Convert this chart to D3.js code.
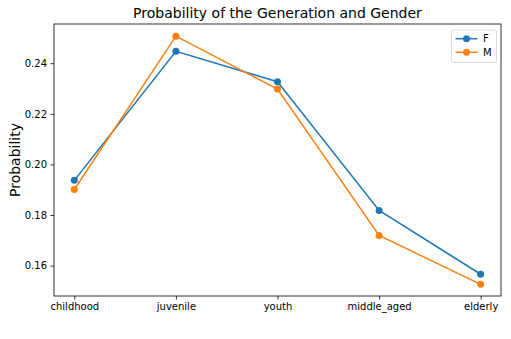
<!DOCTYPE html>
<html>
<head>
<meta charset="utf-8">
<script src="https://cdn.jsdelivr.net/npm/d3@7"></script>
<style>
  html, body { margin: 0; padding: 0; background: #fff; }
  svg { display: block; font-family: "DejaVu Sans", sans-serif; }
</style>
</head>
<body>
<svg id="chart" width="511" height="339"></svg>
<script>
// Generation categories along the x axis
const generations = ["childhood", "juvenile", "youth", "middle_aged", "elderly"];
// Probability per generation for each gender
const femaleProb = [0.1937, 0.2447, 0.2327, 0.1818, 0.1566];
const maleProb   = [0.1901, 0.2507, 0.2298, 0.1719, 0.1526];
const seriesNames = ["F", "M"];
const yTicks = [0.16, 0.18, 0.20, 0.22, 0.24];

const colors = { F: "#1f77b4", M: "#ff7f0e" };
const series = [
  { name: seriesNames[0], values: femaleProb },
  { name: seriesNames[1], values: maleProb }
];

const svg = d3.select("#chart");
const plotLeft = 54, plotRight = 501, plotTop = 24, plotBottom = 296;

// point scale with 5% margins on each side
const x = d3.scalePoint().domain(generations).range([plotLeft, plotRight]).padding(0.2);
const y = d3.scaleLinear().domain([0.1480, 0.2555]).range([plotBottom, plotTop]);

// Axes
const gx = svg.append("g").attr("transform", `translate(0,${plotBottom})`)
  .call(d3.axisBottom(x).tickSize(3.5).tickPadding(3.5));
gx.select(".domain").remove();
gx.selectAll("text").attr("font-size", 10).attr("fill", "#000").attr("font-family", "DejaVu Sans");
gx.selectAll("line").attr("stroke", "#000").attr("stroke-width", 0.8);

const gy = svg.append("g").attr("transform", `translate(${plotLeft},0)`)
  .call(d3.axisLeft(y).tickValues(yTicks).tickFormat(d3.format(".2f")).tickSize(3.5).tickPadding(3.5));
gy.select(".domain").remove();
gy.selectAll("text").attr("font-size", 10).attr("fill", "#000").attr("font-family", "DejaVu Sans");
gy.selectAll("line").attr("stroke", "#000").attr("stroke-width", 0.8);

// Lines and markers
const line = d3.line().x((d, i) => x(generations[i])).y(d => y(d));
series.forEach(s => {
  svg.append("path").datum(s.values)
    .attr("d", line).attr("fill", "none")
    .attr("stroke", colors[s.name]).attr("stroke-width", 1.5);
  svg.append("g").selectAll("circle").data(s.values).join("circle")
    .attr("cx", (d, i) => x(generations[i]))
    .attr("cy", d => y(d))
    .attr("r", 3.5)
    .attr("fill", colors[s.name]);
});

// Frame
svg.append("rect").attr("x", plotLeft).attr("y", plotTop)
  .attr("width", plotRight - plotLeft).attr("height", plotBottom - plotTop)
  .attr("fill", "none").attr("stroke", "#000").attr("stroke-width", 0.8);

// Title and y label
svg.append("text").attr("x", (plotLeft + plotRight) / 2).attr("y", 18)
  .attr("text-anchor", "middle").attr("font-size", 14).attr("fill", "#000")
  .text("Probability of the Generation and Gender");
svg.append("text")
  .attr("transform", `translate(20,${(plotTop + plotBottom) / 2}) rotate(-90)`)
  .attr("text-anchor", "middle").attr("font-size", 14).attr("fill", "#000")
  .text("Probability");

// Legend
const lg = svg.append("g");
lg.append("rect").attr("x", 451.5).attr("y", 30).attr("width", 45).attr("height", 32.5)
  .attr("rx", 2).attr("fill", "#fff").attr("fill-opacity", 0.8)
  .attr("stroke", "#d0d0d0").attr("stroke-width", 0.8);
series.forEach((s, i) => {
  const ly = 38.7 + i * 13.6;
  lg.append("line").attr("x1", 455.5).attr("x2", 477.5).attr("y1", ly).attr("y2", ly)
    .attr("stroke", colors[s.name]).attr("stroke-width", 1.5);
  lg.append("circle").attr("cx", 466.5).attr("cy", ly).attr("r", 3.5).attr("fill", colors[s.name]);
  lg.append("text").attr("x", 483).attr("y", ly + 3.6).attr("font-size", 10).attr("fill", "#000")
    .text(s.name);
});
</script>
</body>
</html>
